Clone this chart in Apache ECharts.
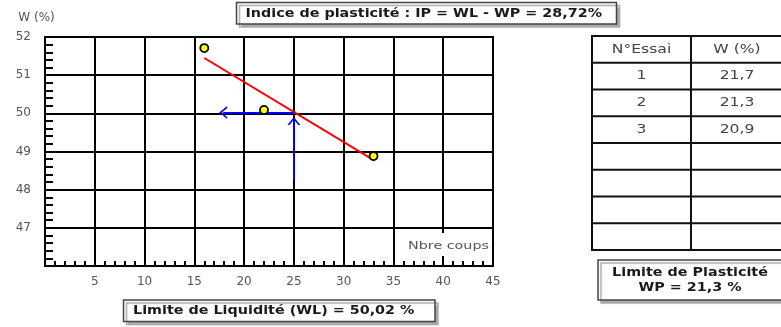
<!DOCTYPE html>
<html><head><meta charset="utf-8">
<script src="https://cdn.jsdelivr.net/npm/echarts@6/dist/echarts.min.js"></script>
<style>html,body{margin:0;padding:0;background:#fff}#c{width:781px;height:327px}</style>
</head><body><div id="c"></div>
<script>
// ---- data ----
const essaiPoints = [[16.0, 51.71], [22.0, 50.09], [33.0, 48.88]];
const fitLine = [[16.0, 51.45], [33.1, 48.76]];
const arrowH = [[25, 50.02], [17.9, 50.02]];
const arrowV = [[25, 48.25], [25, 49.8]];
const xTickLabels = [5, 10, 15, 20, 25, 30, 35, 40, 45];
const yTickLabels = [47, 48, 49, 50, 51, 52];
const tableHeader = ['N°Essai', 'W (%)'];
const tableTrials = ['1', '2', '3'];
const tableW = [21.7, 21.3, 20.9];
const tableRowCount = 8;
const titleText = 'Indice de plasticité : IP = WL - WP = 28,72%';
const wlText = 'Limite de Liquidité (WL) = 50,02 %';
const wpText = ['Limite de Plasticité', 'WP = 21,3 %'];
const xName = 'Nbre coups';
const yName = 'W (%)';

const FONT = '"DejaVu Sans", Verdana, sans-serif';
const chart = echarts.init(document.getElementById('c'), null, {renderer: 'canvas'});

const fmtNum = v => String(v).replace('.', ',');

// ---- graphic (boxes and table) ----
const shadow = {shadowColor: '#a8a8a8', shadowOffsetX: 3, shadowOffsetY: 3, shadowBlur: 1};
const graphics = [];
function box(x, y, w, h) {
  graphics.push({type: 'rect', z: 100, shape: {x, y, width: w, height: h},
    style: Object.assign({fill: '#fff', stroke: '#444', lineWidth: 1.5}, shadow)});
}
function boldText(t, x, y, align) {
  graphics.push({type: 'text', z: 101, x, y, scaleX: 1.13,
    style: {text: t, font: 'bold 12.7px ' + FONT, fill: '#1a1a1a', textAlign: align || 'left', textVerticalAlign: 'middle'}});
}
box(236.5, 2.5, 380, 21.5);
boldText(titleText, 245.5, 13.5);
box(123.5, 300, 311.5, 21.5);
boldText(wlText, 133, 311);
box(598, 260, 192, 40);
boldText(wpText[0], 690, 273, 'center');
boldText(wpText[1], 690, 288, 'center');

// table
const tX = 592, tY = 36, tW = 196, tH = 214, colX = 691;
const rowH = tH / tableRowCount;
graphics.push({type: 'rect', z: 100, shape: {x: tX, y: tY, width: tW, height: tH},
  style: {fill: '#fff', stroke: '#111', lineWidth: 2}});
for (let r = 1; r < tableRowCount; r++) {
  graphics.push({type: 'line', z: 101, shape: {x1: tX, y1: tY + r * rowH, x2: tX + tW, y2: tY + r * rowH},
    style: {stroke: '#111', lineWidth: 2}});
}
graphics.push({type: 'line', z: 101, shape: {x1: colX, y1: tY, x2: colX, y2: tY + tH},
  style: {stroke: '#111', lineWidth: 2}});
function cellText(t, cx, row) {
  graphics.push({type: 'text', z: 102, x: cx, y: tY + row * rowH + rowH / 2, scaleX: 1.3,
    style: {text: t, font: '12px ' + FONT, fill: '#444', textAlign: 'center', textVerticalAlign: 'middle'}});
}
const c1 = (tX + colX) / 2, c2 = colX + 46;
cellText(tableHeader[0], c1, 0);
cellText(tableHeader[1], c2, 0);
tableTrials.forEach((t, i) => { cellText(t, c1, i + 1); cellText(fmtNum(tableW[i]), c2, i + 1); });

// x axis name label with white background
graphics.push({type: 'rect', z: 100, shape: {x: 405, y: 233, width: 86, height: 23}, style: {fill: '#fff'}});
graphics.push({type: 'text', z: 101, x: 448.5, y: 246, scaleX: 1.3,
  style: {text: xName, font: '11px ' + FONT, fill: '#555', textAlign: 'center', textVerticalAlign: 'middle'}});

const chevron = 'path://M0,10 L5,0 L10,10 L8.4,10 L5,3.2 L1.6,10 Z';

const option = {
  animation: false,
  backgroundColor: '#fff',
  grid: {left: 45, top: 37, right: 288, bottom: 61, show: true, borderColor: '#000', borderWidth: 2, backgroundColor: 'transparent'},
  xAxis: {
    type: 'value', min: 0, max: 45, interval: 5,
    axisLine: {show: true, lineStyle: {color: '#000', width: 2}},
    axisTick: {show: true, inside: true, length: 5, lineStyle: {color: '#000', width: 2}},
    minorTick: {show: true, splitNumber: 5, length: 5, lineStyle: {color: '#000', width: 2}},
    splitLine: {show: true, lineStyle: {color: '#000', width: 2}},
    axisLabel: {margin: 10, fontSize: 12, fontFamily: FONT, color: '#555',
      formatter: v => xTickLabels.includes(v) ? String(v) : ''}
  },
  yAxis: {
    type: 'value', min: 46, max: 52, interval: 1,
    name: yName, nameLocation: 'end', nameGap: 13,
    nameTextStyle: {fontSize: 12, fontFamily: FONT, color: '#555', align: 'center', padding: [0, 17, 0, 0]},
    axisLine: {show: true, lineStyle: {color: '#000', width: 2}},
    axisTick: {show: true, inside: true, length: 8, lineStyle: {color: '#000', width: 2}},
    minorTick: {show: true, splitNumber: 5, length: 8, lineStyle: {color: '#000', width: 2}},
    splitLine: {show: true, lineStyle: {color: '#000', width: 2}},
    axisLabel: {margin: 14, fontSize: 12, fontFamily: FONT, color: '#555',
      formatter: v => yTickLabels.includes(v) ? String(v) : ''}
  },
  graphic: graphics,
  series: [
    {
      type: 'line', data: fitLine, symbol: 'none', silent: true, z: 3,
      lineStyle: {color: '#ff0000', width: 2}
    },
    {
      type: 'line', data: [], symbol: 'none', silent: true, z: 3,
      markLine: {
        silent: true, animation: false,
        symbol: ['none', chevron], symbolSize: [13, 8],
        label: {show: false},
        lineStyle: {color: '#0000ff', width: 2, type: 'solid'},
        data: [
          [{coord: arrowH[0]}, {coord: arrowH[1]}],
          [{coord: arrowV[0]}, {coord: arrowV[1]}]
        ]
      }
    },
    {
      type: 'scatter', data: essaiPoints, symbol: 'circle', symbolSize: 8, z: 5,
      itemStyle: {color: '#ffff00', borderColor: '#000', borderWidth: 1.8, opacity: 1}
    }
  ]
};
chart.setOption(option);
</script>
</body></html>
